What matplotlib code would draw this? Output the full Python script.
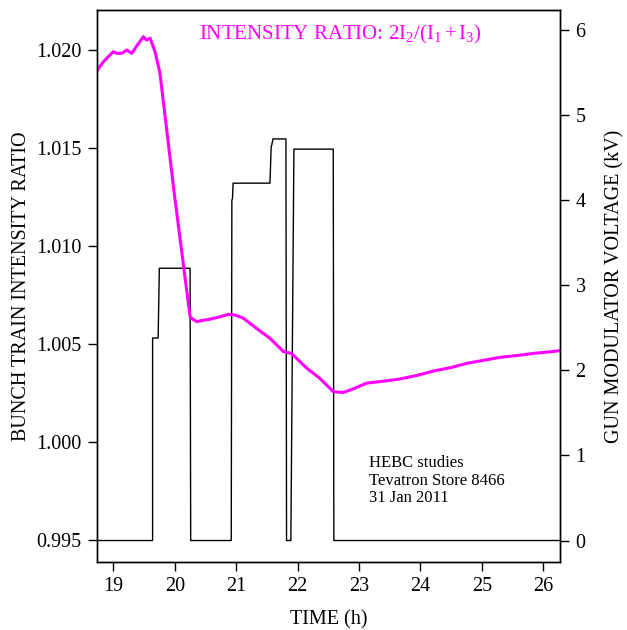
import matplotlib
matplotlib.use("Agg")
import matplotlib.pyplot as plt

plt.rcParams['font.family'] = ['Liberation Serif', 'DejaVu Serif']
plt.rcParams['mathtext.fontset'] = 'custom'
plt.rcParams['mathtext.rm'] = 'Liberation Serif'
plt.rcParams['mathtext.it'] = 'Liberation Serif:italic'

# Intensity ratio (left axis)
ratio_t = [18.73, 18.78, 18.84, 18.92, 19.00, 19.06, 19.14, 19.22, 19.30, 19.38,
           19.49, 19.54, 19.60, 19.68, 19.76, 20.00, 20.25, 20.30, 20.36, 20.45,
           20.57, 20.74, 20.87, 20.98, 21.12, 21.33, 21.55, 21.77, 21.90, 22.15,
           22.36, 22.58, 22.74, 22.90, 23.12, 23.40, 23.66, 23.95, 24.21, 24.50,
           24.75, 25.05, 25.30, 25.60, 25.84, 26.05, 26.27]
ratio_v = [1.01889, 1.01915, 1.01940, 1.01966, 1.01991, 1.01983, 1.01983, 1.02000, 1.01983, 1.02020,
           1.02068, 1.02051, 1.02060, 1.01991, 1.01881, 1.01250, 1.00639, 1.00625, 1.00614, 1.00620,
           1.00626, 1.00639, 1.00651, 1.00648, 1.00631, 1.00580, 1.00529, 1.00461, 1.00452, 1.00376,
           1.00325, 1.00257, 1.00252, 1.00270, 1.00300, 1.00310, 1.00321, 1.00340, 1.00362, 1.00380,
           1.00401, 1.00418, 1.00432, 1.00442, 1.00452, 1.00458, 1.00466]

# Gun modulator voltage (right axis), kV
volt_t = [18.73, 19.64, 19.64, 19.73, 19.75, 20.25, 20.26, 20.92, 20.93, 20.94, 20.95,
          21.55, 21.57, 21.58, 21.60, 21.81, 21.82, 21.88, 21.89, 21.94, 22.58, 22.59, 26.27]
volt_v = [0.0, 0.0, 2.38, 2.38, 3.20, 3.20, 0.0, 0.0, 4.00, 4.02, 4.20,
          4.20, 4.63, 4.65, 4.72, 4.72, 0.0, 0.0, 0.0, 4.60, 4.60, 0.0, 0.0]

ratio_ticks = [0.995, 1.000, 1.005, 1.010, 1.015, 1.020]
volt_ticks = [0, 1, 2, 3, 4, 5, 6]
time_ticks = [19, 20, 21, 22, 23, 24, 25, 26]

fig = plt.figure(figsize=(6.27, 6.30), dpi=100)
ax = fig.add_axes([0.1542, 0.1084, 0.7389, 0.8757])
ax2 = ax.twinx()
ax.set_zorder(ax2.get_zorder() + 1)
ax.patch.set_visible(False)

ax.plot(ratio_t, ratio_v, color='#ff00ff', lw=2.2, solid_joinstyle='round')
ax2.plot(volt_t, volt_v, color='black', lw=1.0)

ax.set_xlim(18.73, 26.27)
ax.set_ylim(0.99389, 1.02204)
ax2.set_ylim(-0.249, 6.235)

ax.set_xticks(time_ticks)
ax.set_xticklabels([str(t) for t in time_ticks])
ax.set_yticks(ratio_ticks)
ax.set_yticklabels([f"{v:.3f}" for v in ratio_ticks])
ax2.set_yticks(volt_ticks)
ax2.set_yticklabels([str(v) for v in volt_ticks])

for a in (ax, ax2):
    a.tick_params(direction='out', length=6.2, width=1, labelsize=14.5, pad=5, color='black')
    for s in a.spines.values():
        s.set_linewidth(1.0)

fig.text(0.035, 0.546, 'BUNCH TRAIN INTENSITY RATIO', rotation=90, ha='center', va='center', fontsize=14.5)
fig.text(0.981, 0.546, 'GUN MODULATOR VOLTAGE (kV)', rotation=90, ha='center', va='center', fontsize=14.5)
fig.text(0.5236, 0.0095, 'TIME (h)', ha='center', va='baseline', fontsize=14.5)

ax.text(0.221, 0.955, r'INTENSITY RATIO: $2\mathrm{I}_2/(\mathrm{I}_1+\mathrm{I}_3)$', transform=ax.transAxes,
        color='#ff00ff', fontsize=15, ha='left', va='center')

ax.text(0.588, 0.193, 'HEBC studies\nTevatron Store 8466\n31 Jan 2011', transform=ax.transAxes,
        ha='left', va='top', fontsize=12, linespacing=1.12)

fig.savefig('out.png', dpi=100)
